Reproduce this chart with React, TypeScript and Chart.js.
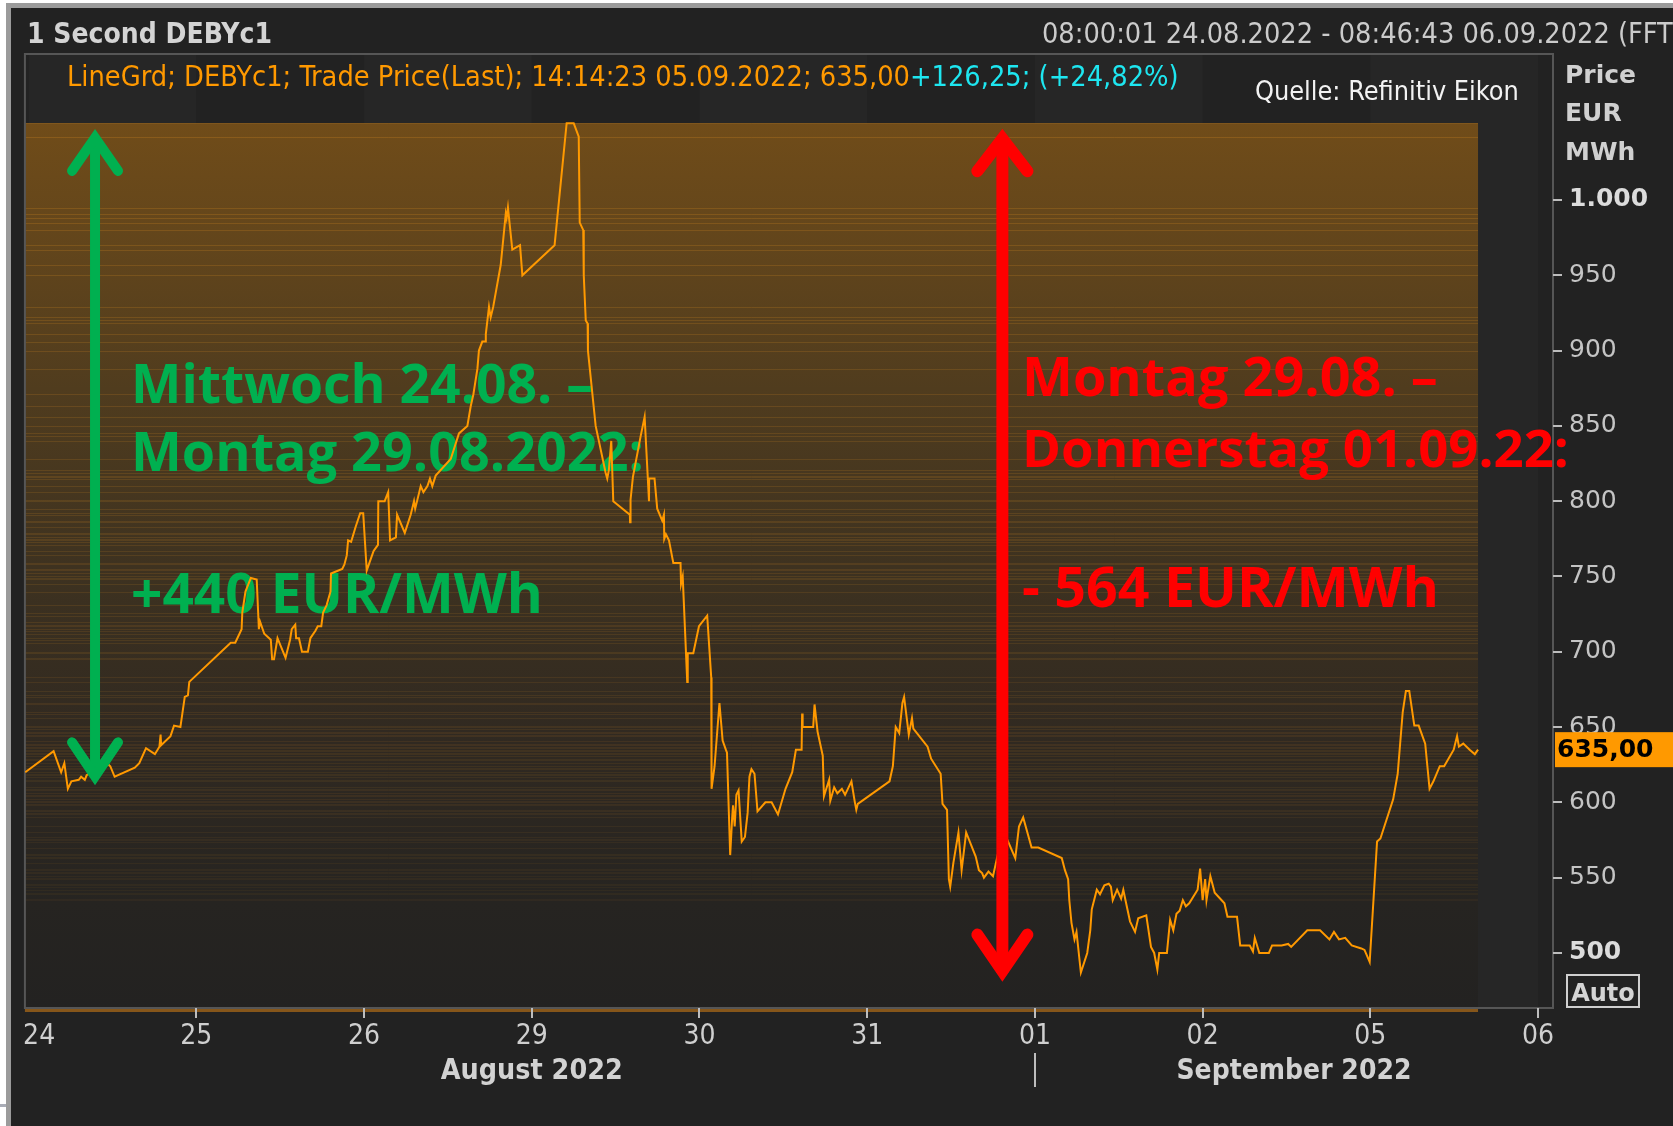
import React, { useEffect, useRef } from 'react';
import { Chart, registerables } from 'chart.js';

Chart.register(...registerables);

// ---- axis / label data ----
const xTickLabels = ['24', '25', '26', '29', '30', '31', '01', '02', '05', '06'];
const yTickValues = [500, 550, 600, 650, 700, 750, 800, 850, 900, 950, 1000];
const monthLabels = ['August 2022', 'September 2022'];

// ---- price series: [trading-day index, EUR/MWh] ----
const day24: [number, number][] = [
  [-0.02, 620], [0.149, 634], [0.194, 620], [0.213, 626], [0.234, 609], [0.255, 614], [0.299, 615],
  [0.313, 617], [0.335, 615], [0.346, 618], [0.4, 622], [0.45, 628], [0.487, 624], [0.513, 617],
  [0.633, 623], [0.66, 626], [0.7, 636], [0.753, 632], [0.78, 637], [0.787, 645], [0.79, 638],
  [0.846, 644], [0.867, 651], [0.905, 650], [0.931, 670], [0.95, 671], [0.958, 680],
];
const day25: [number, number][] = [
  [1.205, 706], [1.232, 706], [1.27, 715], [1.274, 726], [1.293, 740], [1.325, 749], [1.36, 748],
  [1.373, 715], [1.38, 720], [1.405, 712], [1.444, 708], [1.452, 695], [1.463, 695], [1.484, 709],
  [1.532, 696], [1.559, 708], [1.569, 715], [1.59, 718], [1.595, 709], [1.612, 709], [1.63, 700],
  [1.665, 700], [1.68, 709], [1.71, 714], [1.724, 717], [1.745, 717], [1.756, 726], [1.777, 731],
  [1.8, 740], [1.803, 752], [1.87, 755], [1.883, 758], [1.897, 764], [1.905, 774], [1.923, 773],
  [1.95, 783], [1.977, 792], [1.995, 792],
];
const day26: [number, number][] = [
  [2.016, 754], [2.057, 767], [2.083, 771], [2.085, 800], [2.123, 800], [2.144, 806], [2.155, 774],
  [2.19, 776], [2.197, 791], [2.243, 779], [2.278, 791], [2.298, 800], [2.305, 795], [2.338, 810],
  [2.354, 806], [2.378, 810], [2.393, 815], [2.407, 810], [2.427, 817], [2.517, 828], [2.566, 845],
  [2.616, 850], [2.636, 863], [2.652, 871], [2.676, 888], [2.685, 900], [2.705, 906], [2.725, 906],
  [2.726, 911], [2.745, 929], [2.755, 922], [2.77, 929], [2.815, 957], [2.845, 991], [2.85, 988],
  [2.858, 995], [2.884, 967], [2.93, 970], [2.944, 950],
];
const day29: [number, number][] = [
  [3.136, 970], [3.208, 1051], [3.25, 1051], [3.28, 1042], [3.286, 985], [3.307, 980], [3.31, 950],
  [3.322, 920], [3.333, 918], [3.335, 900], [3.381, 850], [3.44, 819], [3.45, 815], [3.46, 821],
  [3.474, 840], [3.486, 800], [3.585, 791], [3.586, 786], [3.589, 801], [3.603, 816], [3.649, 843],
  [3.673, 856], [3.699, 800], [3.7, 815], [3.732, 815], [3.748, 795], [3.778, 787], [3.788, 791],
  [3.79, 775], [3.8, 778], [3.818, 774], [3.844, 759], [3.887, 759], [3.89, 745], [3.9, 750],
  [3.927, 680], [3.93, 699], [3.963, 699], [3.997, 717],
];
const day30: [number, number][] = [
  [4.046, 724], [4.07, 683], [4.072, 609], [4.09, 624], [4.119, 666], [4.138, 641], [4.157, 635],
  [4.164, 633], [4.183, 565], [4.195, 590], [4.2, 598], [4.21, 584], [4.22, 605], [4.233, 608],
  [4.252, 574], [4.271, 577], [4.287, 593], [4.298, 617], [4.31, 622], [4.328, 619], [4.346, 594],
  [4.393, 600], [4.43, 600], [4.468, 592], [4.513, 609], [4.553, 620], [4.575, 635], [4.609, 635],
  [4.612, 659], [4.615, 650], [4.678, 650], [4.686, 665], [4.704, 647], [4.735, 631], [4.742, 604],
  [4.773, 615], [4.78, 601], [4.803, 610], [4.822, 606], [4.849, 609], [4.868, 605], [4.906, 614],
  [4.925, 601], [4.935, 595], [4.944, 599],
];
const day31: [number, number][] = [
  [5.133, 614], [5.153, 624], [5.17, 650], [5.191, 646], [5.21, 666], [5.22, 670], [5.248, 645],
  [5.267, 656], [5.275, 649], [5.36, 637], [5.381, 629], [5.438, 619], [5.449, 599], [5.476, 595],
  [5.487, 549], [5.495, 544], [5.514, 560], [5.544, 580], [5.563, 555], [5.59, 580], [5.647, 564],
  [5.666, 555], [5.685, 553], [5.696, 550], [5.723, 554], [5.75, 551], [5.78, 566], [5.82, 575],
  [5.836, 575], [5.883, 563], [5.905, 584], [5.93, 590], [5.98, 570],
];
const day01: [number, number][] = [
  [6.02, 570], [6.16, 563], [6.179, 555], [6.198, 549], [6.205, 535], [6.218, 520], [6.236, 509],
  [6.248, 514], [6.274, 487], [6.312, 500], [6.33, 515], [6.339, 529], [6.369, 542], [6.388, 539],
  [6.414, 545], [6.44, 546], [6.453, 544], [6.464, 535], [6.49, 542], [6.514, 536], [6.527, 542],
  [6.54, 535], [6.567, 521], [6.597, 514], [6.616, 523], [6.664, 525], [6.692, 504], [6.711, 500],
  [6.73, 489], [6.741, 500], [6.787, 500], [6.806, 522], [6.825, 515], [6.844, 526], [6.863, 528],
  [6.882, 535], [6.9, 531], [6.92, 533], [6.97, 542], [6.985, 556],
];
const day02: [number, number][] = [
  [7.0, 535], [7.015, 549], [7.023, 535], [7.046, 551], [7.072, 540], [7.13, 533], [7.148, 524],
  [7.205, 524], [7.224, 505], [7.281, 505], [7.3, 501], [7.311, 510], [7.338, 500], [7.395, 500],
  [7.414, 505], [7.471, 505], [7.51, 506], [7.528, 504], [7.624, 515], [7.7, 515], [7.756, 509],
  [7.783, 514], [7.813, 509], [7.85, 510], [7.889, 505], [7.946, 503], [7.965, 502], [7.996, 494],
];
const day05: [number, number][] = [
  [8.04, 574], [8.06, 576], [8.136, 602], [8.163, 619], [8.193, 660], [8.212, 674], [8.232, 674],
  [8.262, 651], [8.288, 651], [8.327, 639], [8.353, 609], [8.376, 614], [8.414, 624], [8.44, 624],
  [8.497, 635], [8.517, 644], [8.528, 637], [8.554, 639], [8.592, 635], [8.623, 632], [8.642, 635],
];
const series: [number, number][] = [
  ...day24, ...day25, ...day26, ...day29, ...day30, ...day31, ...day01, ...day02, ...day05,
];

// ---- annotation arrows: [day index, from value, to value] ----
const greenArrow = [0.396, 1048.5, 610];
const redArrow = [5.806, 1049, 479];
const greenText = ['Mittwoch 24.08. –', 'Montag 29.08.2022:', '+440 EUR/MWh'];
const redText = ['Montag 29.08. –', 'Donnerstag 01.09.22:', '- 564 EUR/MWh'];

const W = 1673;
const H = 1126;
const COND = "'DejaVu Sans Condensed', 'Liberation Sans Narrow', sans-serif";
const DV = "'DejaVu Sans', sans-serif";
const OS = "'Open Sans', sans-serif";

function fit(ctx: CanvasRenderingContext2D, text: string, weight: string, family: string, target: number) {
  ctx.font = `${weight} 40px ${family}`;
  const w = ctx.measureText(text).width;
  return (40 * target) / w;
}

function drawArrow(
  ctx: CanvasRenderingContext2D, px: number, yTop: number, yBot: number,
  color: string, lw: number, hw: number, hhTop: number, hhBot: number,
) {
  ctx.save();
  ctx.strokeStyle = color;
  ctx.lineWidth = lw;
  ctx.lineCap = 'butt';
  ctx.beginPath();
  ctx.moveTo(px, yTop + lw);
  ctx.lineTo(px, yBot - lw);
  ctx.stroke();
  ctx.lineJoin = 'miter';
  ctx.lineCap = 'round';
  const offT = (lw / 2) / Math.sin(Math.atan(hw / hhTop));
  const offB = (lw / 2) / Math.sin(Math.atan(hw / hhBot));
  ctx.beginPath();
  ctx.moveTo(px - hw, yTop + hhTop);
  ctx.lineTo(px, yTop + offT);
  ctx.lineTo(px + hw, yTop + hhTop);
  ctx.stroke();
  ctx.beginPath();
  ctx.moveTo(px - hw, yBot - hhBot);
  ctx.lineTo(px, yBot - offB);
  ctx.lineTo(px + hw, yBot - hhBot);
  ctx.stroke();
  ctx.restore();
}

const decor = {
  id: 'decor',
  beforeDraw(chart: any) {
    const { ctx, chartArea: ca, scales } = chart;
    const x = scales.x;
    const y = scales.y;
    ctx.save();
    ctx.fillStyle = '#222222';
    ctx.fillRect(0, 0, W, H);
    // window border
    ctx.fillStyle = '#ffffff';
    ctx.fillRect(0, 0, W, 3);
    ctx.fillRect(0, 0, 6, H);
    ctx.fillStyle = '#9b9b9b';
    ctx.fillRect(6, 3, W - 6, 5);
    ctx.fillRect(6, 3, 5, H - 3);
    ctx.fillStyle = '#a9acb6';
    ctx.fillRect(0, 1104, 6, 3);
    // alternating day bands
    for (let i = 0; i < xTickLabels.length; i += 2) {
      const l = Math.max(ca.left, x.getPixelForValue(i));
      const r = Math.min(ca.right, x.getPixelForValue(i + 1));
      ctx.fillStyle = 'rgba(255,255,255,0.02)';
      ctx.fillRect(l, ca.top, r - l, ca.bottom - ca.top);
    }
    // gradient area spanning the data extent
    const vals = series.map((p) => p[1]);
    const maxV = Math.max(...vals);
    const top = y.getPixelForValue(maxV);
    const right = x.getPixelForValue(series[series.length - 1][0]);
    const g = ctx.createLinearGradient(0, top, 0, ca.bottom);
    g.addColorStop(0, 'rgb(112,76,25)');
    g.addColorStop(0.12, 'rgb(100,70,27)');
    g.addColorStop(0.3, 'rgb(80,60,30)');
    g.addColorStop(0.5, 'rgb(62,50,32)');
    g.addColorStop(0.7, 'rgb(48,41,33)');
    g.addColorStop(0.88, 'rgb(38,36,33)');
    g.addColorStop(1, 'rgb(35,34,33)');
    ctx.fillStyle = g;
    ctx.fillRect(ca.left, top, right - ca.left, ca.bottom - top);
    // level lines at visited prices, fading with depth
    const rows = new Map<number, number>();
    for (const v of vals) {
      if (v < 535) continue;
      const r = Math.round(y.getPixelForValue(v));
      rows.set(r, v);
    }
    ctx.lineWidth = 1;
    rows.forEach((v, r) => {
      const f = Math.max(0, Math.min(1, (v - 535) / (maxV - 535)));
      ctx.strokeStyle = `rgba(215,140,35,${(0.06 + 0.2 * f).toFixed(3)})`;
      ctx.beginPath();
      ctx.moveTo(ca.left, r + 0.5);
      ctx.lineTo(right, r + 0.5);
      ctx.stroke();
    });
    // frame
    ctx.strokeStyle = '#565656';
    ctx.lineWidth = 2;
    ctx.strokeRect(ca.left, ca.top, ca.right - ca.left, ca.bottom - ca.top);
    ctx.fillStyle = '#86561a';
    ctx.fillRect(ca.left, ca.bottom + 1, right - ca.left, 3);
    ctx.restore();
  },
  beforeDatasetsDraw(chart: any) {
    const { ctx } = chart;
    ctx.save();
    ctx.textBaseline = 'alphabetic';
    ctx.textAlign = 'left';
    const gb = [402.7, 471.4, 613.4];
    const gw = [462, 513, 412];
    ctx.fillStyle = '#00b050';
    greenText.forEach((t, i) => {
      ctx.font = `bold ${fit(ctx, t, 'bold', OS, gw[i])}px ${OS}`;
      ctx.fillText(t, 131, gb[i]);
    });
    const rb = [396, 466.7, 606.7];
    const rw = [416, 547, 417];
    ctx.fillStyle = '#ff0000';
    redText.forEach((t, i) => {
      ctx.font = `bold ${fit(ctx, t, 'bold', OS, rw[i])}px ${OS}`;
      ctx.fillText(t, 1022, rb[i]);
    });
    ctx.restore();
  },
  afterDatasetsDraw(chart: any) {
    const { ctx, scales } = chart;
    const x = scales.x;
    const y = scales.y;
    drawArrow(ctx, x.getPixelForValue(greenArrow[0]), y.getPixelForValue(greenArrow[1]),
      y.getPixelForValue(greenArrow[2]), '#00b050', 10, 23, 44, 45);
    drawArrow(ctx, x.getPixelForValue(redArrow[0]), y.getPixelForValue(redArrow[1]),
      y.getPixelForValue(redArrow[2]), '#ff0000', 12, 25, 45, 50);
  },
  afterDraw(chart: any) {
    const { ctx, scales, chartArea: ca } = chart;
    const x = scales.x;
    const y = scales.y;
    ctx.save();
    ctx.textBaseline = 'alphabetic';
    ctx.textAlign = 'left';
    // header
    let t = '1 Second DEBYc1';
    let s = fit(ctx, t, 'bold', COND, 245);
    ctx.font = `bold ${s}px ${COND}`;
    ctx.fillStyle = '#d4d4d4';
    ctx.fillText(t, 27, 43);
    t = '08:00:01 24.08.2022 - 08:46:43 06.09.2022 (FFT';
    s = fit(ctx, t, 'normal', COND, 631);
    ctx.font = `normal ${s}px ${COND}`;
    ctx.fillStyle = '#cbcbcb';
    ctx.fillText(t + ')', 1042, 43);
    // legend line
    const last = series[series.length - 1][1];
    const lastStr = last.toFixed(2).replace('.', ',');
    const orange = `LineGrd; DEBYc1; Trade Price(Last); 14:14:23 05.09.2022; ${lastStr}`;
    const cyan = '+126,25; (+24,82%)';
    s = fit(ctx, orange + cyan, 'normal', COND, 1112);
    ctx.font = `normal ${s}px ${COND}`;
    ctx.fillStyle = '#ff9900';
    ctx.fillText(orange, 67, 86);
    const ow = ctx.measureText(orange).width;
    ctx.fillStyle = '#1ee6f0';
    ctx.fillText(cyan, 67 + ow, 86);
    t = 'Quelle: Refinitiv Eikon';
    s = fit(ctx, t, 'normal', COND, 264);
    ctx.font = `normal ${s}px ${COND}`;
    ctx.fillStyle = '#f2f2f2';
    ctx.fillText(t, 1255, 100);
    // axis title
    ctx.font = `bold 25px ${DV}`;
    ctx.fillStyle = '#d0d0d0';
    ctx.fillText('Price', 1565, 83);
    ctx.fillText('EUR', 1565, 121);
    ctx.fillText('MWh', 1565, 160);
    // last value box
    const ly = y.getPixelForValue(last);
    ctx.fillStyle = '#ff9900';
    ctx.fillRect(ca.right + 2, ly - 17.5, W - ca.right - 2, 35);
    ctx.fillStyle = '#000000';
    ctx.font = `bold 25px ${DV}`;
    ctx.textBaseline = 'middle';
    ctx.fillText(lastStr, ca.right + 4, ly + 1);
    // Auto box
    ctx.fillStyle = '#222222';
    ctx.fillRect(1567, 975, 72, 32);
    ctx.strokeStyle = '#cfcfcf';
    ctx.lineWidth = 2;
    ctx.strokeRect(1567, 975, 72, 32);
    ctx.fillStyle = '#d4d4d4';
    ctx.font = `bold 24px ${DV}`;
    ctx.textAlign = 'center';
    ctx.textBaseline = 'alphabetic';
    ctx.fillText('Auto', 1603, 1001);
    // month labels
    const centers = [x.getPixelForValue(3), x.getPixelForValue((6 + x.max) / 2)];
    const widths = [182, 235];
    monthLabels.forEach((m, i) => {
      const fs = fit(ctx, m, 'bold', COND, widths[i]);
      ctx.font = `bold ${fs}px ${COND}`;
      ctx.fillStyle = '#d2d2d2';
      ctx.fillText(m, centers[i], 1079);
    });
    const sx = Math.round(x.getPixelForValue(6));
    ctx.fillStyle = '#bdbdbd';
    ctx.fillRect(sx - 1, 1053, 2, 34);
    ctx.restore();
  },
};

export default function App() {
  const ref = useRef<HTMLCanvasElement>(null);
  useEffect(() => {
    document.body.style.margin = '0';
    document.body.style.background = '#222222';
    const canvas = ref.current!;
    const chart = new Chart(canvas, {
      type: 'line',
      data: {
        datasets: [
          {
            data: series.map(([a, b]) => ({ x: a, y: b })),
            borderColor: '#ff9900',
            borderWidth: 2,
            pointRadius: 0,
            tension: 0,
            fill: false,
          },
        ],
      },
      options: {
        animation: false,
        responsive: false,
        maintainAspectRatio: false,
        devicePixelRatio: 1,
        layout: { padding: { left: 24, top: 54, right: 0, bottom: 0 } },
        plugins: { legend: { display: false }, tooltip: { enabled: false } },
        scales: {
          x: {
            type: 'linear',
            position: 'bottom',
            min: -0.022,
            max: 9.089,
            afterBuildTicks: (sc: any) => {
              sc.ticks = xTickLabels.map((_, i) => ({ value: i }));
            },
            afterFit: (sc: any) => {
              sc.height = 118;
            },
            ticks: {
              autoSkip: false,
              maxRotation: 0,
              padding: 2,
              color: '#cfcfcf',
              font: { family: COND, size: 28 },
              callback: (v: any) => {
                const i = Math.round(Number(v));
                // first label sits just inside the frame
                return i === 0 ? '\u2007\u2009' + xTickLabels[i] : xTickLabels[i];
              },
            },
            grid: {
              drawOnChartArea: false,
              tickLength: 10,
              lineWidth: 2,
              color: (c: any) => (c.index === 0 ? 'rgba(0,0,0,0)' : '#bdbdbd'),
            },
            border: { display: false },
          },
          y: {
            type: 'linear',
            position: 'right',
            min: 463.45,
            max: 1096.95,
            afterBuildTicks: (sc: any) => {
              sc.ticks = yTickValues.map((v) => ({ value: v }));
            },
            afterFit: (sc: any) => {
              sc.width = 120;
            },
            ticks: {
              padding: 7,
              color: (c: any) => (c.tick && c.tick.value % 500 === 0 ? '#dcdcdc' : '#c4c4c4'),
              font: (c: any) => ({
                family: DV,
                size: 25,
                weight: c.tick && c.tick.value % 500 === 0 ? 'bold' : 'normal',
              }),
              callback: (v: any) => {
                const n = Number(v);
                return n >= 1000 ? `${Math.floor(n / 1000)}.${String(n % 1000).padStart(3, '0')}` : String(n);
              },
            },
            grid: { drawOnChartArea: false, tickLength: 9, lineWidth: 2, color: '#bdbdbd' },
            border: { display: false },
          },
        },
      },
      plugins: [decor],
    } as any);
    return () => chart.destroy();
  }, []);
  return (
    <div style={{ width: W, height: H, position: 'relative', overflow: 'hidden' }}>
      <canvas ref={ref} width={W} height={H} style={{ display: 'block', width: W, height: H }} />
    </div>
  );
}
